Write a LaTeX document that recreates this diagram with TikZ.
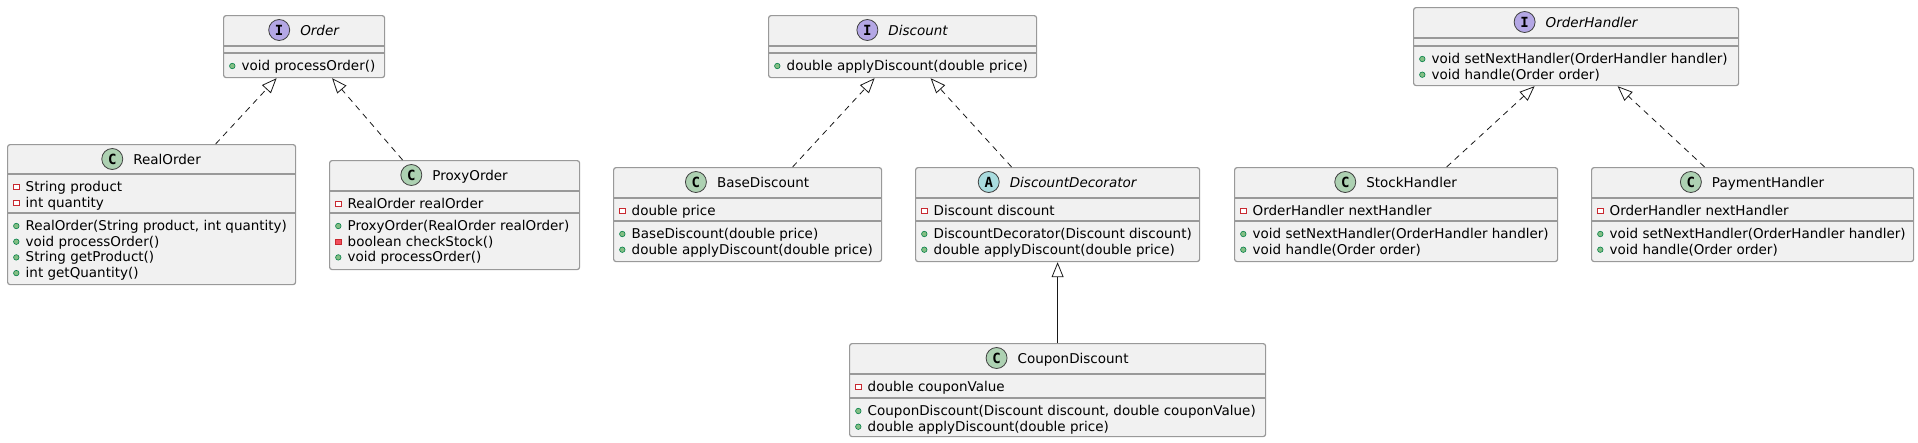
\documentclass[tikz,border=0pt]{standalone}
\usepackage{fontspec}
\setmainfont{DejaVu Sans}
\newfontfamily\iconfont{DejaVu Sans Mono}
\usetikzlibrary{positioning,calc,arrows.meta}

\definecolor{boxfill}{HTML}{F1F1F1}
\definecolor{boxline}{HTML}{999999}
\definecolor{linkcol}{HTML}{181818}
\definecolor{classicon}{HTML}{ADD1B2}
\definecolor{ifaceicon}{HTML}{B4A7E5}
\definecolor{abstracticon}{HTML}{A9DCDF}
\definecolor{privred}{HTML}{C82930}
\definecolor{privfill}{HTML}{F24D5C}
\definecolor{pubgreen}{HTML}{038048}
\definecolor{pubfill}{HTML}{84BE84}

\tikzset{
  umlbox/.style={draw=boxline, fill=boxfill, line width=1.2pt, rounded corners=2.5pt,
    anchor=north west, inner sep=0pt},
  sepline/.style={draw=boxline, line width=1.2pt},
  title/.style={anchor=base, inner sep=0pt, text height=10pt, text depth=0pt,
    font=\fontsize{13.5}{16}\selectfont},
  member/.style={anchor=base west, inner sep=0pt, font=\fontsize{13.5}{16}\selectfont},
  badge/.style={circle, draw=black!75, line width=0.8pt, minimum size=21pt, inner sep=0pt,
    font=\iconfont\bfseries\fontsize{14}{14}\selectfont},
  pubm/.style={circle, draw=pubgreen, fill=pubfill, line width=0.6pt, minimum size=5.5pt, inner sep=0pt},
  privf/.style={rectangle, draw=privred, fill=white, line width=0.8pt, minimum size=5.5pt, inner sep=0pt},
  privm/.style={rectangle, draw=privred, fill=privfill, line width=0.8pt, minimum size=5.5pt, inner sep=0pt},
  realize/.style={draw=linkcol, line width=0.8pt, dash pattern=on 6pt off 5pt,
    -{Triangle[open, length=15pt, width=12pt]}},
  extend/.style={draw=linkcol, line width=0.8pt, -{Triangle[open, length=15pt, width=12pt]}},
}

% box frame: name, left, top, right, bottom, header bottom, fields bottom
\newcommand{\classframe}[7]{%
  \node[umlbox, minimum width={(#4)-(#2)}, minimum height={(#5)-(#3)}] (#1) at (#2,#3) {};
  \draw[sepline] (#2,#6) -- (#4,#6);
  \draw[sepline] (#2,#7) -- (#4,#7);
}
% header: box, letter, badge colour, name
\newcommand{\classtitle}[4]{%
  \node[title] (#1-name) at ($(#1.north)+(15.5,20)$) {#4};
  \node[badge, fill=#3, left=10pt of #1-name] (#1-badge) {#2};
}
% rows: box, first baseline below top, list of kind/text
\newcommand{\classrows}[3]{%
  \foreach \kind/\txt [count=\i from 0] in {#3} {
    \node[member] at ($(#1.north west)+(18.5,{#2+15.7*\i})$) {\txt};
    \node[\kind] at ($(#1.north west)+(9.3,{#2+15.7*\i-4.5})$) {};
  }
}

\begin{document}
\begin{tikzpicture}[x=1pt,y=-1pt]

  \useasboundingbox (0,0) rectangle (1918,442);

  % Interfaces
  \classframe{Order}{223}{15}{384}{77}{46}{53}
  \classtitle{Order}{I}{ifaceicon}{\itshape Order}
  \classrows{Order}{55.5}{pubm/void processOrder()}

  \classframe{Discount}{768}{15}{1036}{77}{46}{53}
  \classtitle{Discount}{I}{ifaceicon}{\itshape Discount}
  \classrows{Discount}{55.5}{pubm/double applyDiscount(double price)}

  \classframe{OrderHandler}{1413}{7}{1738}{85}{38}{46}
  \classtitle{OrderHandler}{I}{ifaceicon}{\itshape OrderHandler}
  \classrows{OrderHandler}{56.5}{pubm/void setNextHandler(OrderHandler handler),
    pubm/void handle(Order order)}

  % Classes
  \classframe{RealOrder}{7}{144}{295}{284}{174}{213}
  \classtitle{RealOrder}{C}{classicon}{RealOrder}
  \classrows{RealOrder}{47.5}{privf/String product, privf/int quantity}
  \classrows{RealOrder}{86.5}{pubm/{RealOrder(String product, int quantity)},
    pubm/void processOrder(), pubm/String getProduct(), pubm/int getQuantity()}

  \classframe{ProxyOrder}{329}{160}{579}{269}{191}{213}
  \classtitle{ProxyOrder}{C}{classicon}{ProxyOrder}
  \classrows{ProxyOrder}{48.5}{privf/RealOrder realOrder}
  \classrows{ProxyOrder}{70.5}{pubm/ProxyOrder(RealOrder realOrder),
    privm/boolean checkStock(), pubm/void processOrder()}

  \classframe{BaseDiscount}{613}{167}{881}{261}{198}{221}
  \classtitle{BaseDiscount}{C}{classicon}{BaseDiscount}
  \classrows{BaseDiscount}{48.5}{privf/double price}
  \classrows{BaseDiscount}{71.5}{pubm/BaseDiscount(double price),
    pubm/double applyDiscount(double price)}

  \classframe{DiscountDecorator}{915}{167}{1199}{261}{198}{221}
  \classtitle{DiscountDecorator}{A}{abstracticon}{\itshape DiscountDecorator}
  \classrows{DiscountDecorator}{48.5}{privf/Discount discount}
  \classrows{DiscountDecorator}{71.5}{pubm/DiscountDecorator(Discount discount),
    pubm/double applyDiscount(double price)}

  \classframe{CouponDiscount}{849}{343}{1265}{436}{374}{398}
  \classtitle{CouponDiscount}{C}{classicon}{CouponDiscount}
  \classrows{CouponDiscount}{48.5}{privf/double couponValue}
  \classrows{CouponDiscount}{72.5}{pubm/{CouponDiscount(Discount discount, double couponValue)},
    pubm/double applyDiscount(double price)}

  \classframe{StockHandler}{1234}{167}{1557}{261}{198}{221}
  \classtitle{StockHandler}{C}{classicon}{StockHandler}
  \classrows{StockHandler}{48.5}{privf/OrderHandler nextHandler}
  \classrows{StockHandler}{71.5}{pubm/void setNextHandler(OrderHandler handler),
    pubm/void handle(Order order)}

  \classframe{PaymentHandler}{1591}{167}{1913}{261}{198}{221}
  \classtitle{PaymentHandler}{C}{classicon}{PaymentHandler}
  \classrows{PaymentHandler}{48.5}{privf/OrderHandler nextHandler}
  \classrows{PaymentHandler}{71.5}{pubm/void setNextHandler(OrderHandler handler),
    pubm/void handle(Order order)}

  % Links
  \draw[realize] ([xshift=64pt]RealOrder.north) -- ([xshift=-27.5pt]Order.south);
  \draw[realize] ([xshift=-52pt]ProxyOrder.north) -- ([xshift=28pt]Order.south);
  \draw[realize] ([xshift=45pt]BaseDiscount.north) -- ([xshift=-28pt]Discount.south);
  \draw[realize] ([xshift=-46pt]DiscountDecorator.north) -- ([xshift=28pt]Discount.south);
  \draw[extend] (CouponDiscount.north) -- (DiscountDecorator.south);
  \draw[realize] ([xshift=50.5pt]StockHandler.north) -- ([xshift=-41.5pt]OrderHandler.south);
  \draw[realize] ([xshift=-48pt]PaymentHandler.north) -- ([xshift=41.5pt]OrderHandler.south);

\end{tikzpicture}
\end{document}
